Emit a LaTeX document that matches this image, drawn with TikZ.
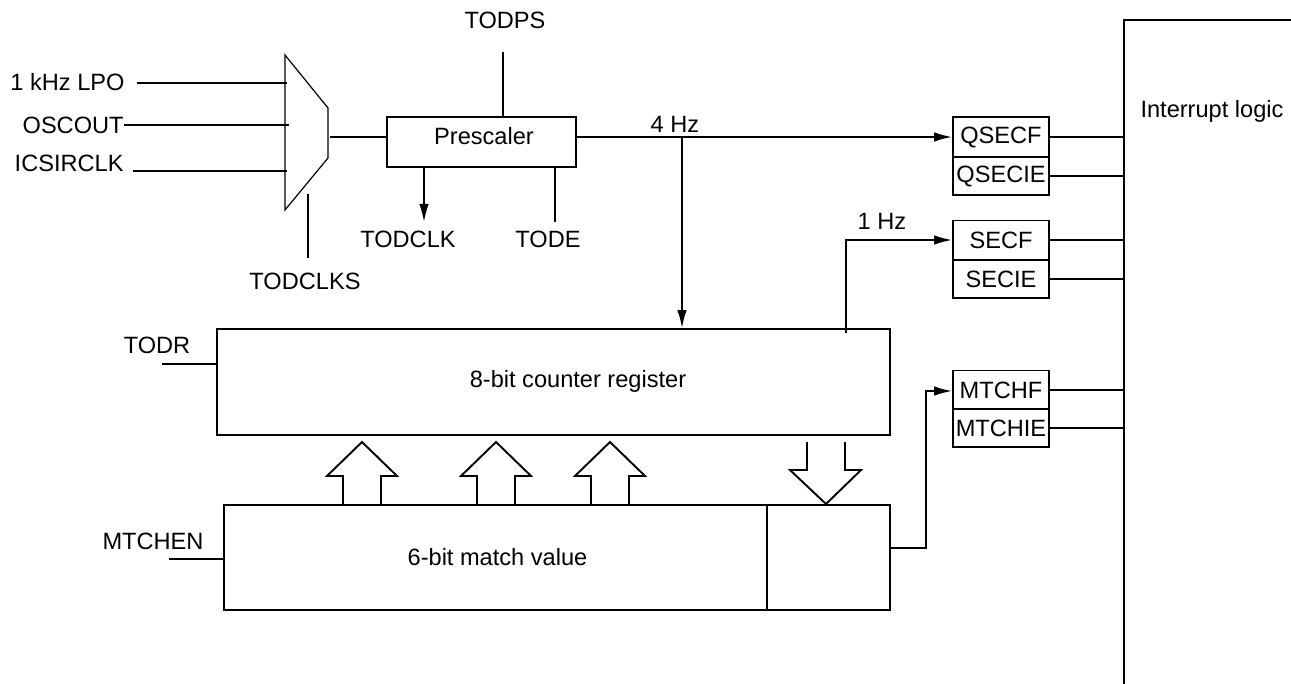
\documentclass[tikz,border=0pt]{standalone}
\usepackage{fontspec}
\setmainfont{Liberation Sans}
\usetikzlibrary{arrows.meta}
\begin{document}
\begin{tikzpicture}[x=0.5pt,y=-0.5pt,
  every node/.style={font=\fontsize{11.8pt}{14pt}\selectfont},
  ln/.style={line width=0.95pt},
  thin/.style={line width=0.6pt},
  tip/.style={-{Latex[length=9pt,width=4.8pt]}},
  arr/.style={line width=0.95pt,tip},
  blk/.style={draw,line width=0.95pt,inner sep=0pt},
  lbl/.style={inner sep=0pt,anchor=base},
  lble/.style={inner sep=0pt,anchor=base east},
  flag/.style={draw,line width=0.95pt,inner sep=0pt,minimum width=48pt},
  upbus/.pic={\draw[line width=0.95pt] (-19,0)--(-19,-29)--(-35,-29)--(0,-63)--(35,-29)--(19,-29)--(19,0);},
  downbus/.pic={\draw[line width=0.95pt] (-19,0)--(-19,28)--(-36,28)--(0,62)--(35,28)--(19,28)--(19,0);}
]
\useasboundingbox (0,0) rectangle (1291,684);

% multiplexer
\coordinate (m1) at (285,55);
\coordinate (m2) at (328,108);
\coordinate (m3) at (328,158);
\coordinate (m4) at (285,210);
\draw[thin] (m1)--(m2)--(m3)--(m4)--cycle;
\coordinate (muxout) at (330,137);
\coordinate (muxsel) at (308,194);

% inputs
\node[lble] (lpo) at (125,91) {1 kHz LPO};
\node[lble] (osc) at (124,134) {OSCOUT};
\node[lble] (ics) at (124,172) {ICSIRCLK};
\coordinate (lpoin) at (287,83);
\coordinate (oscin) at (289,125);
\coordinate (icsin) at (287,171);
\coordinate (lpos) at (137,83);
\coordinate (oscs) at (124,125);
\coordinate (icss) at (133,171);
\draw[ln] (lpos)--(lpoin);
\draw[ln] (oscs)--(oscin);
\draw[ln] (icss)--(icsin);

\node[lbl] (todclks) at (305,290) {TODCLKS};
\coordinate (todclksend) at (308,258);
\draw[ln] (muxsel)--(todclksend);

% prescaler
\node[blk,minimum width=94.5pt,minimum height=25pt] (pre) at (481.5,142) {};
\node[lbl] (preT) at (484,145) {Prescaler};
\coordinate (prein) at (387,137);
\coordinate (preout) at (576,137);
\draw[ln] (muxout)--(prein);

\node[lbl] (todps) at (505,29) {TODPS};
\coordinate (todpsend) at (503,52);
\coordinate (pretop) at (503,117);
\draw[ln] (todpsend)--(pretop);

\coordinate (preclk) at (424,167);
\coordinate (todclkend) at (424,222);
\draw[arr] (preclk)--(todclkend);
\node[lbl] (todclk) at (408,248) {TODCLK};

\coordinate (prede) at (555,167);
\coordinate (todeend) at (555,222);
\draw[ln] (prede)--(todeend);
\node[lbl] (tode) at (548,248) {TODE};

% counter register
\node[blk,minimum width=336.5pt,minimum height=53pt] (cnt) at (553.5,382) {};
\node[lbl] (cntT) at (578,387) {8-bit counter register};
\node[lbl] (todr) at (157,354) {TODR};
\coordinate (todrs) at (162,364);
\draw[ln] (todrs)--(todrs-|cnt.west);

% match value
\node[blk,minimum width=271.5pt,minimum height=52.5pt] (mv) at (495.5,557.5) {};
\node[blk,minimum width=61.5pt,minimum height=52.5pt] (mvs) at (828.5,557.5) {};
\node[lbl] (mvT) at (497.5,565) {6-bit match value};
\node[lbl] (mtchen) at (153,549) {MTCHEN};
\coordinate (mtchens) at (169,559);
\draw[ln] (mtchens)--(mtchens-|mv.west);

% buses
\pic at (362,505) {upbus};
\pic at (496,505) {upbus};
\pic at (610,505) {upbus};
\pic at (826,442) {downbus};

% flags
\node[flag,minimum height=20pt] (qsecf) at (1001,137) {QSECF};
\node[flag,minimum height=19pt] (qsecie) at (1001,176) {QSECIE};
\node[flag,minimum height=19.5pt] (secf) at (1001,240) {SECF};
\node[flag,minimum height=19pt] (secie) at (1001,279) {SECIE};
\node[flag,minimum height=19.5pt] (mtchf) at (1001,390) {MTCHF};
\node[flag,minimum height=19pt] (mtchie) at (1001,428) {MTCHIE};

% interrupt logic
\coordinate (il1) at (1291,20);
\coordinate (il2) at (1124,20);
\coordinate (il3) at (1124,684);
\draw[ln] (il1)--(il2)--(il3);
\node[lbl] (ilT) at (1212,118) {Interrupt logic};

\draw[ln] (qsecf.east)--(qsecf.east-|il2);
\draw[ln] (qsecie.east)--(qsecie.east-|il2);
\draw[ln] (secf.east)--(secf.east-|il2);
\draw[ln] (secie.east)--(secie.east-|il2);
\draw[ln] (mtchf.east)--(mtchf.east-|il2);
\draw[ln] (mtchie.east)--(mtchie.east-|il2);

% 4 Hz
\draw[arr] (preout)--(qsecf.west);
\node[lbl] (f4) at (675,133) {4 Hz};
\coordinate (tap4) at (682,137);
\draw[arr] (tap4)--(tap4|-cnt.north);

% 1 Hz
\coordinate (c1) at (846,333);
\coordinate (c1u) at (846,240);
\draw[arr] (c1)--(c1u)--(secf.west);
\node[lbl] (f1) at (882,230) {1 Hz};

% match flag
\coordinate (mo) at (890,548);
\coordinate (mo1) at (926,548);
\coordinate (mo2) at (926,391);
\draw[arr] (mo)--(mo1)--(mo2)--(mo2-|mtchf.west);
\end{tikzpicture}
\end{document}
